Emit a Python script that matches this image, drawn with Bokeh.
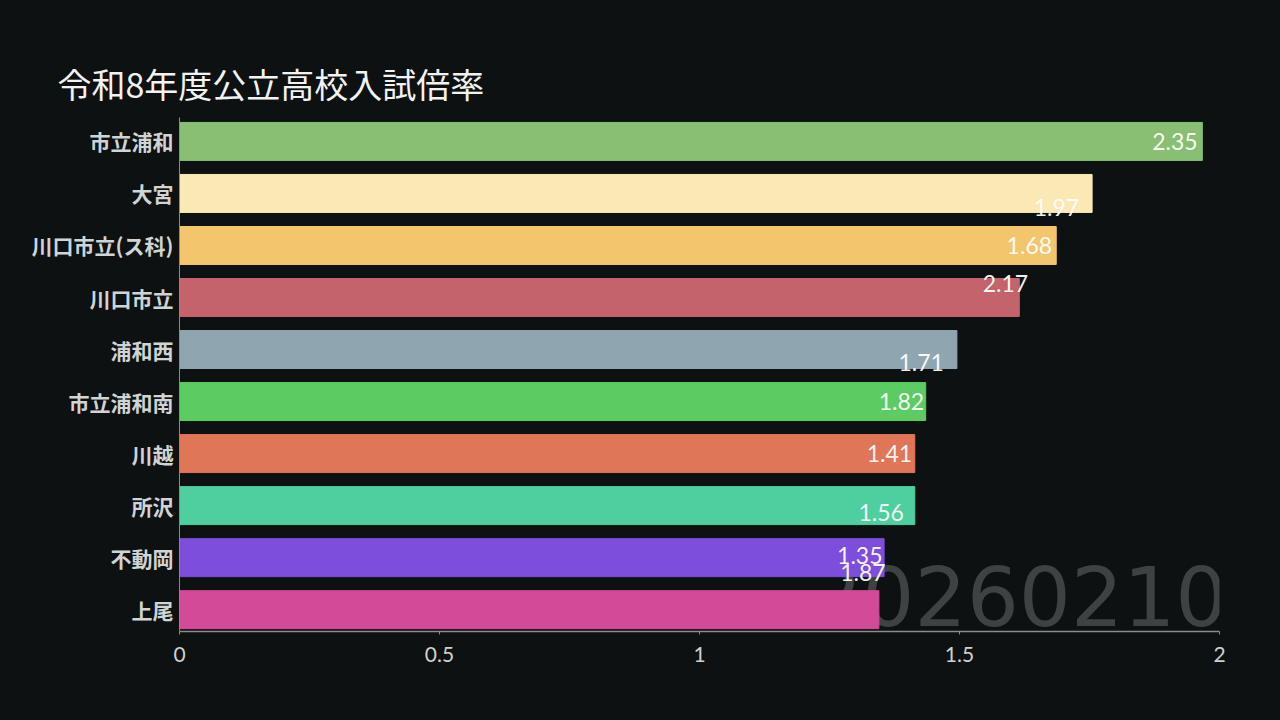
from bokeh.plotting import figure
from bokeh.models import Range1d, FixedTicker, Label, ColumnDataSource
from bokeh.core.properties import value
from bokeh.embed import file_html
from bokeh.resources import INLINE

# ---- data ----
schools = ["市立浦和", "大宮", "川口市立(ス科)", "川口市立", "浦和西",
           "市立浦和南", "川越", "所沢", "不動岡", "上尾"]
bar_values = [1.967, 1.755, 1.686, 1.615, 1.495, 1.435, 1.414, 1.414, 1.355, 1.345]
bar_colors = ["#88bf73", "#fbe9b5", "#f3c66e", "#c4636b", "#8fa5b0",
              "#5ccc62", "#e07658", "#4fcfa0", "#7d4ddb", "#d34a98"]
label_text = ["2.35", "1.97", "1.68", "2.17", "1.71", "1.82", "1.41", "1.56", "1.35", "1.87"]
label_x = [1.958, 1.73, 1.678, 1.632, 1.47, 1.432, 1.409, 1.393, 1.352, 1.358]
label_y = [0.0, 1.27, 2.0, 2.73, 4.25, 5.0, 6.0, 7.13, 7.96, 8.29]
x_ticks = [0, 0.5, 1, 1.5, 2]
title_text = "令和8年度公立高校入試倍率"
date_text = "20260210"

BG = "#0e1111"
ranks = list(range(len(schools)))

p = figure(width=1264, height=704, output_backend="svg", toolbar_location=None,
           x_range=Range1d(0, 2.0), y_range=Range1d(9.42, -0.46),
           min_border_left=171, min_border_right=53, min_border_top=109,
           min_border_bottom=81)
p.background_fill_color = BG
p.border_fill_color = BG
p.outline_line_color = None
p.grid.grid_line_color = None

p.title.text = title_text
p.title.text_font = "Noto Sans CJK JP"
p.title.text_font_size = "34px"
p.title.text_font_style = "normal"
p.title.text_color = "#f2f2f2"
p.title.align = "left"
p.title.offset = -122
p.title.standoff = 20

# watermark (behind bars)
wm = Label(x=2.0, y=9.42, text=date_text, text_align="right", text_baseline="bottom",
           x_offset=8, y_offset=6, text_font="DejaVu Sans", text_font_size="82px",
           text_color="#3e4242", level="underlay")
p.add_layout(wm)

src = ColumnDataSource(dict(y=ranks, right=bar_values, color=bar_colors))
p.hbar(y="y", left=0, right="right", height=0.73, color="color", source=src)

lsrc = ColumnDataSource(dict(x=label_x, y=label_y, t=label_text))
p.text(x="x", y="y", text="t", source=lsrc, text_align="right", text_baseline="middle",
       text_font=value("Lato"), text_font_size="23px", text_color="#ffffff", text_alpha=0.95)

# axes
xa = p.xaxis[0]
xa.ticker = FixedTicker(ticks=x_ticks)
xa.major_label_overrides = {0: "0", 0.5: "0.5", 1: "1", 1.5: "1.5", 2: "2"}
xa.axis_line_color = "#8a8d8d"
xa.axis_line_width = 1.5
xa.major_tick_line_color = "#8a8d8d"
xa.major_tick_out = 3
xa.major_tick_in = 0
xa.minor_tick_line_color = None
xa.major_label_text_color = "#d0d0d0"
xa.major_label_text_font = "Lato"
xa.major_label_text_font_size = "21px"
xa.major_label_standoff = 12

ya = p.yaxis[0]
ya.ticker = FixedTicker(ticks=ranks)
ya.major_label_overrides = {i: s for i, s in enumerate(schools)}
ya.axis_line_color = "#8a8d8d"
ya.axis_line_width = 1
ya.major_tick_line_color = None
ya.minor_tick_line_color = None
ya.major_label_text_color = "#d0d4d4"
ya.major_label_text_font = "Noto Sans CJK JP"
ya.major_label_text_font_style = "bold"
ya.major_label_text_font_size = "21px"
ya.major_label_standoff = 0

html = file_html(p, INLINE)
html = html.replace("<body>", '<body style="background:%s;margin:8px">' % BG)
open("out.html", "w").write(html)
